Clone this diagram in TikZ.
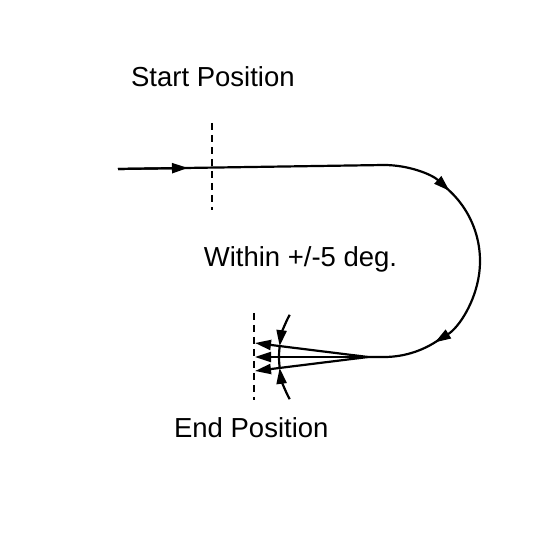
\documentclass[tikz,border=0pt]{standalone}
\usepackage{fontspec}
\setmainfont{Liberation Sans}
\usetikzlibrary{calc, arrows.meta}

\begin{document}
\begin{tikzpicture}[x=1pt, y=1pt, line width=2.2pt,
  arr/.style={-{Triangle[length=16pt, width=10pt]}},
  guide/.style={line width=1.6pt, dash pattern=on 7pt off 5pt},
  lbl/.style={anchor=base west, inner sep=0pt, font=\fontsize{27.5}{33}\selectfont}]
  \useasboundingbox (0,0) rectangle (558,558);
  \coordinate (in) at (118,389);
  \coordinate (top) at (384,393);
  \coordinate (turn) at (384,297);
  \coordinate (apex) at (368,201);

  % incoming leg and start mark
  \draw (in) -- (top);
  \draw[arr] (in) -- ($(in)!0.263!(top)$);
  \draw[guide] (212,435) -- (212,348);

  % the turn
  \draw[arr] (top) arc[start angle=90, end angle=47, radius=96];
  \draw[arr] (turn) ++(52:96) arc[start angle=52, end angle=-58, radius=96];
  \draw (turn) ++(-52:96) arc[start angle=-52, end angle=-90, radius=96] -- (apex);

  % end fan and end mark
  \foreach \y in {215,201,187}
    \draw[arr] (apex) -- (255,\y);
  \draw[guide] (254,245) -- (254,158);

  % angle arc
  \draw (apex) ++(173:89) arc[start angle=173, end angle=187, radius=89];
  \draw[arr] (apex) ++(151.7:89) arc[start angle=151.7, end angle=173, radius=89];
  \draw[arr] (apex) ++(208.3:89) arc[start angle=208.3, end angle=187, radius=89];

  \node[lbl] (start) at (130,471.3) {Start Position};
  \node[lbl] (within) at (202.7,291.3) {Within +/-5 deg.};
  \node[lbl] (end) at (173,120.3) {End Position};
\end{tikzpicture}
\end{document}
